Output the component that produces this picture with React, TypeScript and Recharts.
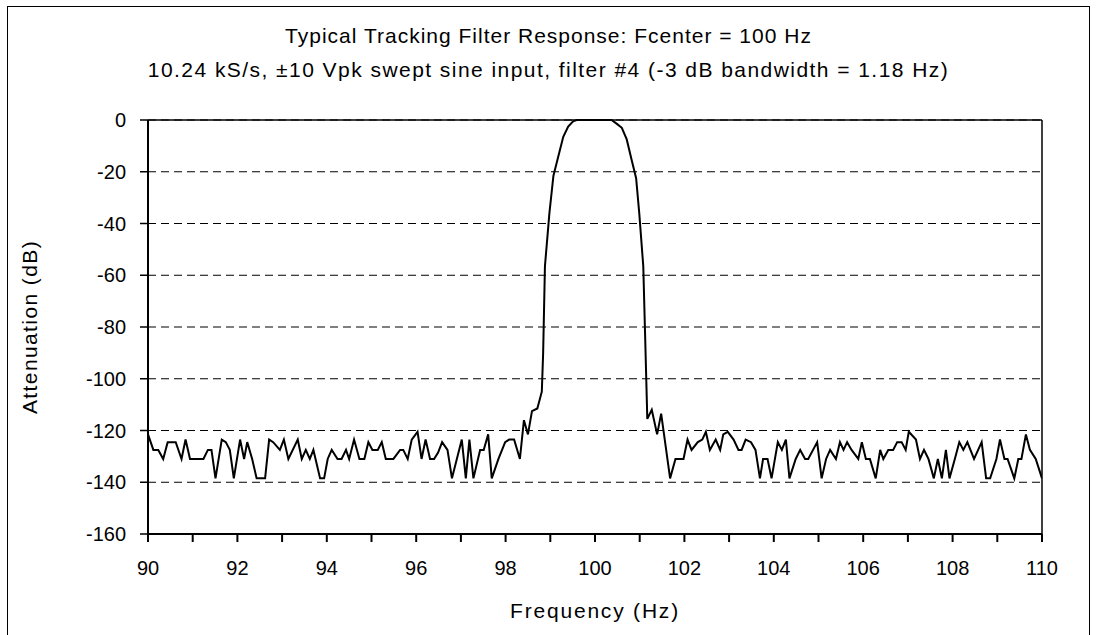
import React from "react";
import {
  LineChart,
  Line,
  XAxis,
  YAxis,
  CartesianGrid,
  ReferenceLine,
} from "recharts";

// 読み取った周波数 (Hz) と減衰量 (dB)
const freqHz = [
  90.0, 90.12, 90.23, 90.34, 90.44, 90.62, 90.75, 90.84, 90.94, 91.24, 91.34,
  91.42, 91.51, 91.65, 91.74, 91.83, 91.92, 92.06, 92.15, 92.22, 92.33, 92.43,
  92.62, 92.71, 92.8, 92.95, 93.04, 93.14, 93.35, 93.44, 93.53, 93.62, 93.7,
  93.85, 93.94, 94.02, 94.11, 94.24, 94.33, 94.43, 94.5, 94.61, 94.73, 94.84,
  94.93, 95.02, 95.14, 95.23, 95.32, 95.49, 95.64, 95.71, 95.81, 95.9, 96.03,
  96.12, 96.21, 96.31, 96.4, 96.49, 96.58, 96.7, 96.8, 97.02, 97.11, 97.19,
  97.28, 97.43, 97.51, 97.61, 97.69, 97.84, 97.99, 98.08, 98.19, 98.32, 98.41,
  98.5, 98.59, 98.71, 98.81, 98.84, 98.88, 98.98, 99.07, 99.18, 99.29, 99.4,
  99.51, 99.59, 100.37, 100.49, 100.6, 100.71, 100.82, 100.92, 100.99, 101.08,
  101.12, 101.17, 101.27, 101.39, 101.48, 101.68, 101.8, 101.98, 102.07,
  102.16, 102.3, 102.4, 102.48, 102.57, 102.7, 102.8, 102.87, 102.97, 103.1,
  103.21, 103.28, 103.37, 103.49, 103.59, 103.69, 103.76, 103.86, 103.95,
  104.09, 104.18, 104.27, 104.35, 104.49, 104.59, 104.7, 104.77, 104.97,
  105.07, 105.17, 105.26, 105.39, 105.48, 105.56, 105.64, 105.74, 105.89,
  105.97, 106.06, 106.15, 106.28, 106.38, 106.45, 106.56, 106.67, 106.76,
  106.86, 106.95, 107.02, 107.18, 107.27, 107.36, 107.46, 107.58, 107.67,
  107.76, 107.85, 107.93, 108.05, 108.15, 108.24, 108.33, 108.48, 108.65,
  108.75, 108.84, 108.98, 109.06, 109.16, 109.23, 109.38, 109.47, 109.54,
  109.64, 109.73, 109.86, 110.0,
];

const attenDb = [
  -121.5, -127.5, -127.5, -131, -124.5, -124.5, -131, -123.5, -131, -131,
  -127.5, -127.5, -138.5, -123.5, -124.5, -127.5, -138.5, -123.5, -131, -124.5,
  -131, -138.5, -138.5, -123.5, -124.5, -127.5, -123.5, -131, -123.5, -131,
  -127.5, -131, -127.5, -138.5, -138.5, -131, -127.5, -131, -131, -127.5, -131,
  -123.5, -131, -131, -124.5, -127.5, -127.5, -124.5, -131, -131, -127.5,
  -127.5, -131, -123.5, -120.5, -131, -123.5, -131, -131, -128.5, -124.5,
  -127.5, -138.5, -123.5, -138.5, -123.5, -138.5, -127.5, -127.5, -121.5,
  -138.5, -131, -124.5, -123.5, -123.5, -131, -116, -121.5, -112.5, -111.5,
  -105, -90, -56.5, -36, -21.5, -14, -6.5, -2.5, -0.5, 0, 0, -1.5, -3, -7.5,
  -15.5, -22.5, -36, -56.5, -82.5, -115.5, -112, -121.5, -113.5, -138.5, -131,
  -131, -123.5, -127.5, -124.5, -123.5, -120.5, -127.5, -123.5, -127.5, -121.5,
  -120.5, -123.5, -127.5, -127.5, -123.5, -124.5, -127.5, -138.5, -131, -131,
  -138.5, -124.5, -127.5, -123.5, -138.5, -131, -127.5, -131, -131, -124.5,
  -138.5, -131, -127.5, -131, -124.5, -127.5, -124.5, -127.5, -131, -124.5,
  -131, -131, -138.5, -127.5, -131, -127.5, -127.5, -124.5, -124.5, -127.5,
  -120.5, -123.5, -131, -127.5, -131, -138.5, -131, -138.5, -127.5, -138.5,
  -131, -124.5, -127.5, -124.5, -131, -124.5, -138.5, -138.5, -131, -123.5,
  -131, -131, -138.5, -131, -131, -121.5, -127.5, -131, -138.5,
];

const xTicks = [
  90, 91, 92, 93, 94, 95, 96, 97, 98, 99, 100, 101, 102, 103, 104, 105, 106,
  107, 108, 109, 110,
];
const yTicks = [0, -20, -40, -60, -80, -100, -120, -140, -160];

const titleLines = [
  "Typical Tracking Filter Response: Fcenter = 100 Hz",
  "10.24 kS/s, \u00b110 Vpk swept sine input, filter #4 (-3 dB bandwidth = 1.18 Hz)",
];

const FONT = "'Liberation Sans', Arial, sans-serif";
const FS = 20;

const data = freqHz.map((f, i) => ({ f, db: attenDb[i] }));

export default function App() {
  return (
    <div
      style={{
        position: "fixed",
        left: 0,
        top: 0,
        width: 1097,
        height: 635,
        overflow: "hidden",
        background: "#fff",
        fontFamily: FONT,
      }}
    >
      {/* 外枠 */}
      <div
        style={{
          position: "absolute",
          left: 7,
          top: 6,
          width: 1083,
          height: 700,
          border: "1px solid #000",
          boxSizing: "border-box",
        }}
      />
      {titleLines.map((t, i) => (
        <div
          key={i}
          style={{
            position: "absolute",
            left: 0,
            width: 1097,
            top: i === 0 ? 24 : 58,
            textAlign: "center",
            fontSize: 21,
            letterSpacing: i === 0 ? 1 : 1.45,
            lineHeight: "24px",
            color: "#000",
          }}
        >
          {t}
        </div>
      ))}
      <div style={{ position: "absolute", left: 0, top: 0 }}>
        <LineChart
          width={1097}
          height={635}
          data={data}
          margin={{ top: 120, right: 55, left: 0, bottom: 0 }}
        >
          <CartesianGrid
            horizontal
            vertical={false}
            stroke="#000"
            strokeDasharray="8 5"
          />
          <XAxis
            dataKey="f"
            type="number"
            domain={[90, 110]}
            ticks={xTicks}
            interval={0}
            allowDataOverflow
            height={101}
            tickSize={8}
            tickMargin={19}
            axisLine={{ stroke: "#000", strokeWidth: 2 }}
            tickLine={{ stroke: "#000", strokeWidth: 2 }}
            tick={{ fill: "#000", fontSize: FS, fontFamily: FONT }}
            tickFormatter={(v: number) => (v % 2 === 0 ? String(v) : "")}
            label={{
              value: "Frequency (Hz)",
              position: "insideBottom",
              offset: 17,
              fill: "#000",
              fontSize: 21,
              fontFamily: FONT,
              style: { letterSpacing: 1.8 },
            }}
          />
          <YAxis
            type="number"
            domain={[-160, 0]}
            ticks={yTicks}
            interval={0}
            width={148}
            tickSize={8}
            tickMargin={14}
            axisLine={{ stroke: "#000", strokeWidth: 2 }}
            tickLine={{ stroke: "#000", strokeWidth: 1.5 }}
            tick={{ fill: "#000", fontSize: FS, fontFamily: FONT }}
            label={{
              value: "Attenuation (dB)",
              angle: -90,
              position: "insideLeft",
              offset: 30,
              style: { textAnchor: "middle", letterSpacing: 1.4 },
              fill: "#000",
              fontSize: 21,
              fontFamily: FONT,
            }}
          />
          <ReferenceLine y={0} stroke="#000" strokeWidth={1.5} />
          <ReferenceLine x={110} stroke="#000" strokeWidth={1.5} />
          <Line
            type="linear"
            dataKey="db"
            stroke="#000"
            strokeWidth={2}
            dot={false}
            isAnimationActive={false}
          />
        </LineChart>
      </div>
    </div>
  );
}
